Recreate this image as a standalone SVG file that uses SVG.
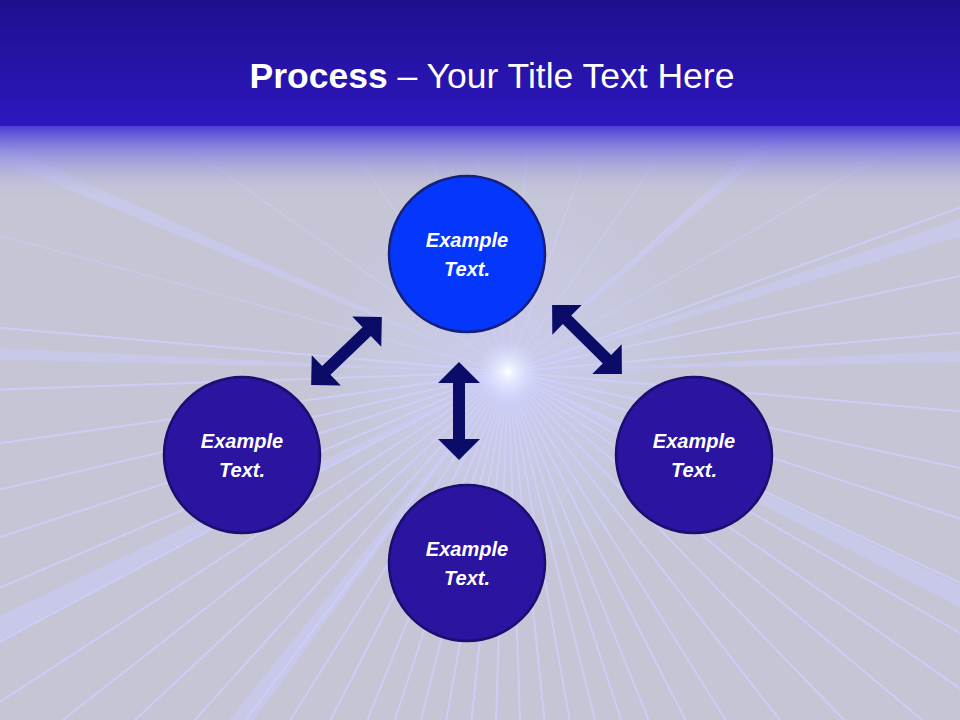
<svg xmlns="http://www.w3.org/2000/svg" width="960" height="720" viewBox="0 0 960 720">
<defs>
<linearGradient id="hdr" x1="0" y1="0" x2="0" y2="1">
<stop offset="0" stop-color="#1f0f8e"/>
<stop offset="1" stop-color="#2d17bf"/>
</linearGradient>
<linearGradient id="fade" x1="0" y1="0" x2="0" y2="1">
<stop offset="0" stop-color="#4a3ad6" stop-opacity="1"/>
<stop offset="0.35" stop-color="#8480e0" stop-opacity="0.8"/>
<stop offset="1" stop-color="#c6c6d6" stop-opacity="0"/>
</linearGradient>
<radialGradient id="glow" cx="508" cy="372" r="32" gradientUnits="userSpaceOnUse">
<stop offset="0" stop-color="#ffffff" stop-opacity="1"/>
<stop offset="0.2" stop-color="#f0f6ff" stop-opacity="0.85"/>
<stop offset="1" stop-color="#d8dcff" stop-opacity="0"/>
</radialGradient>
<radialGradient id="halo" cx="508" cy="372" r="200" gradientUnits="userSpaceOnUse">
<stop offset="0" stop-color="#d0d0fa" stop-opacity="0.6"/>
<stop offset="1" stop-color="#d0d0fa" stop-opacity="0"/>
</radialGradient>
<path id="dbl" d="M-49,0 L-28,-21 L-28,-6 L28,-6 L28,-21 L49,0 L28,21 L28,6 L-28,6 L-28,21 Z"/>
</defs>
<style>
.ray{stroke:#cfd0ff;stroke-width:2;stroke-opacity:0.75;fill:none}
.ray.up{stroke-opacity:0.4}
.beam{fill:#cccdff;fill-opacity:0.45}
.arrow{fill:#0b0b68}
.c1{fill:#0536fb;stroke:#16207a;stroke-width:2.5}
.c2{fill:#2a14a0;stroke:#1a0e6e;stroke-width:2.5}
.lbl{font-family:"Liberation Sans","Open Sans",Arial,sans-serif;font-size:20px;font-weight:bold;font-style:italic;fill:#ffffff;text-anchor:middle}
.title{font-family:"Liberation Sans","Open Sans",Arial,sans-serif;font-size:35.5px;fill:#ffffff;text-anchor:middle}
</style>
<rect x="0" y="0" width="960" height="720" fill="#c5c5d6"/>
<rect x="0" y="0" width="960" height="720" fill="url(#halo)"/>
<g id="rays">
<line class="ray" x1="508" y1="372" x2="1404" y2="450"/>
<line class="ray" x1="508" y1="372" x2="1388" y2="559"/>
<line class="ray" x1="508" y1="372" x2="1364" y2="650"/>
<line class="ray" x1="508" y1="372" x2="1323" y2="752"/>
<line class="ray" x1="508" y1="372" x2="1287" y2="822"/>
<line class="ray" x1="508" y1="372" x2="1245" y2="888"/>
<line class="ray" x1="508" y1="372" x2="1197" y2="951"/>
<line class="ray" x1="508" y1="372" x2="1133" y2="1019"/>
<line class="ray" x1="508" y1="372" x2="1062" y2="1081"/>
<line class="ray" x1="508" y1="372" x2="985" y2="1135"/>
<line class="ray" x1="508" y1="372" x2="917" y2="1174"/>
<line class="ray" x1="508" y1="372" x2="845" y2="1206"/>
<line class="ray" x1="508" y1="372" x2="786" y2="1228"/>
<line class="ray" x1="508" y1="372" x2="726" y2="1245"/>
<line class="ray" x1="508" y1="372" x2="665" y2="1258"/>
<line class="ray" x1="508" y1="372" x2="602" y2="1267"/>
<line class="ray" x1="508" y1="372" x2="539" y2="1271"/>
<line class="ray" x1="508" y1="372" x2="477" y2="1271"/>
<line class="ray" x1="508" y1="372" x2="414" y2="1267"/>
<line class="ray" x1="508" y1="372" x2="351" y2="1258"/>
<line class="ray" x1="508" y1="372" x2="290" y2="1245"/>
<line class="ray" x1="508" y1="372" x2="230" y2="1228"/>
<line class="ray" x1="508" y1="372" x2="171" y2="1206"/>
<line class="ray" x1="508" y1="372" x2="99" y2="1174"/>
<line class="ray" x1="508" y1="372" x2="31" y2="1135"/>
<line class="ray" x1="508" y1="372" x2="-34" y2="1091"/>
<line class="ray" x1="508" y1="372" x2="-94" y2="1041"/>
<line class="ray" x1="508" y1="372" x2="-150" y2="986"/>
<line class="ray" x1="508" y1="372" x2="-201" y2="926"/>
<line class="ray" x1="508" y1="372" x2="-247" y2="862"/>
<line class="ray" x1="508" y1="372" x2="-287" y2="794"/>
<line class="ray" x1="508" y1="372" x2="-321" y2="724"/>
<line class="ray" x1="508" y1="372" x2="-348" y2="650"/>
<line class="ray" x1="508" y1="372" x2="-369" y2="575"/>
<line class="ray" x1="508" y1="372" x2="-383" y2="497"/>
<line class="ray" x1="508" y1="372" x2="-391" y2="403"/>
<line class="ray" x1="508" y1="372" x2="-388" y2="294"/>
<line class="ray up" x1="508" y1="372" x2="-361" y2="139"/>
<line class="ray up" x1="508" y1="372" x2="-229" y2="-144"/>
<line class="ray up" x1="508" y1="372" x2="-8" y2="-365"/>
<line class="ray up" x1="508" y1="372" x2="200" y2="-474"/>
<line class="ray up" x1="508" y1="372" x2="383" y2="-519"/>
<line class="ray up" x1="508" y1="372" x2="586" y2="-524"/>
<line class="ray up" x1="508" y1="372" x2="816" y2="-474"/>
<line class="ray up" x1="508" y1="372" x2="1025" y2="-365"/>
<line class="ray up" x1="508" y1="372" x2="1177" y2="-230"/>
<line class="ray up" x1="508" y1="372" x2="1287" y2="-78"/>
<line class="ray" x1="508" y1="372" x2="1354" y2="64"/>
<line class="ray" x1="508" y1="372" x2="1388" y2="185"/>
<line class="ray" x1="508" y1="372" x2="1404" y2="294"/>
<polygon class="beam" points="508,372 -316,2 -316,30"/>
<polygon class="beam" points="508,372 1370,80 1380,110"/>
<polygon class="beam" points="508,372 1400,330 1400,352"/>
<polygon class="beam" points="508,372 -390,330 -390,350"/>
<polygon class="beam" points="508,372 -300,760 -280,790"/>
<polygon class="beam" points="508,372 -60,1080 -20,1095"/>
<polygon class="beam" points="508,372 1200,-250 1220,-230"/>
<polygon class="beam" points="508,372 1330,760 1310,790"/>
</g>
<rect x="0" y="125" width="960" height="75" fill="url(#fade)"/>
<rect x="0" y="0" width="960" height="126" fill="url(#hdr)"/>
<circle cx="508" cy="372" r="32" fill="url(#glow)"/>
<text class="title" x="492" y="88"><tspan font-weight="bold">Process</tspan> – Your Title Text Here</text>
<g id="connectors">
<use href="#dbl" class="arrow" transform="translate(346.5,351) rotate(-43.8)"/>
<use href="#dbl" class="arrow" transform="translate(587,339.5) rotate(44.6)"/>
<use href="#dbl" class="arrow" transform="translate(459,411) rotate(90)"/>
</g>
<g id="node-top">
<circle class="c1" cx="467" cy="254" r="78"/>
<text class="lbl" x="467" y="247">Example</text>
<text class="lbl" x="467" y="276">Text.</text>
</g>
<g id="node-left">
<circle class="c2" cx="242" cy="455" r="78"/>
<text class="lbl" x="242" y="448">Example</text>
<text class="lbl" x="242" y="477">Text.</text>
</g>
<g id="node-right">
<circle class="c2" cx="694" cy="455" r="78"/>
<text class="lbl" x="694" y="448">Example</text>
<text class="lbl" x="694" y="477">Text.</text>
</g>
<g id="node-bottom">
<circle class="c2" cx="467" cy="563" r="78"/>
<text class="lbl" x="467" y="556">Example</text>
<text class="lbl" x="467" y="585">Text.</text>
</g>
</svg>
